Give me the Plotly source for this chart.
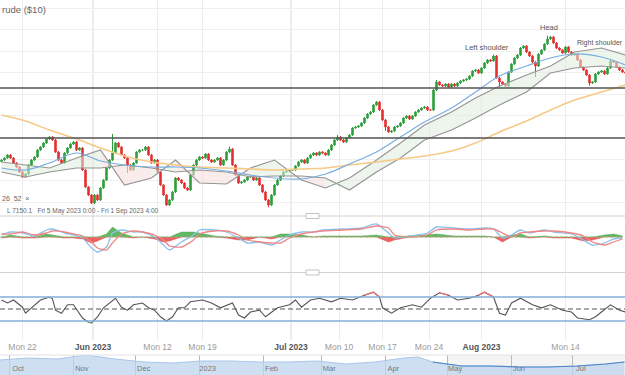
import plotly.graph_objects as go

# ---------------- text ----------------
chart_title = "rude ($10)"
indicator_params = "26  52  ×"
range_info = "L 7150.1   Fri 5 May 2023 0:00 - Fri 1 Sep 2023 4:00"
pattern_labels = ["Left shoulder", "Head", "Right shoulder"]

# ---------------- price candles (4h closes) ----------------
closes = [
    7530, 7544, 7565, 7544, 7509, 7481, 7446, 7411, 7432, 7495,
    7530, 7551, 7600, 7621, 7649, 7677, 7691, 7670, 7586, 7530,
    7509, 7579, 7614, 7642, 7656, 7600, 7614, 7460, 7341, 7285,
    7229, 7285, 7250, 7334, 7390, 7474, 7530, 7579, 7649, 7621,
    7565, 7544, 7495, 7460, 7509, 7586, 7600, 7600, 7621, 7565,
    7509, 7530, 7446, 7355, 7285, 7215, 7250, 7306, 7404, 7390,
    7369, 7334, 7320, 7425, 7495, 7530, 7551, 7544, 7572, 7530,
    7516, 7530, 7544, 7495, 7530, 7586, 7607, 7495, 7425, 7369,
    7376, 7390, 7411, 7418, 7390, 7404, 7355, 7306, 7250, 7215,
    7285, 7355, 7390, 7418, 7446, 7453, 7460, 7460, 7488, 7516,
    7530, 7509, 7544, 7565, 7579, 7565, 7586, 7579, 7565, 7600,
    7635, 7670, 7691, 7670, 7656, 7684, 7705, 7754, 7761, 7768,
    7789, 7824, 7852, 7866, 7915, 7936, 7880, 7810, 7761, 7726,
    7733, 7761, 7768, 7789, 7824, 7838, 7817, 7838, 7866, 7880,
    7894, 7901, 7880, 7880, 8020, 8076, 8055, 8048, 8062, 8041,
    8062, 8048, 8069, 8083, 8090, 8097, 8118, 8153, 8160, 8139,
    8174, 8209, 8230, 8223, 8258, 8104, 8076, 8062, 8048, 8146,
    8202, 8244, 8265, 8314, 8328, 8286, 8258, 8216, 8188, 8272,
    8300, 8342, 8377, 8391, 8349, 8314, 8300, 8279, 8321, 8286,
    8265, 8272, 8230, 8181, 8160, 8125, 8069, 8076, 8132, 8146,
    8153, 8132, 8174, 8223, 8216, 8181, 8160, 8146, 8139,
]
first_open = 7520
wick_hi = {37: 7712, 76: 7625, 112: 7705, 145: 8090, 164: 8268, 182: 8400, 203: 8235}
wick_lo = {42: 7440, 89: 7200, 128: 7735, 166: 8040, 178: 8110, 196: 8050}
tail = 6

# horizontal levels drawn on the chart
levels = [8034, 7684]

# ---------------- overlays (read at candle positions) ----------------
ma_idx = [0, 8, 16, 25, 33, 41, 50, 58, 66, 75, 83, 91, 100, 108, 116, 125,
          133, 141, 150, 158, 166, 175, 183, 191, 200, 208]
ma_fast = [7474, 7460, 7509, 7579, 7523, 7495, 7481, 7481, 7474, 7453, 7425, 7404, 7397,
           7432, 7502, 7586, 7691, 7796, 7894, 8006, 8118, 8188, 8244, 8272, 8251, 8195]
ma_slow = [7845, 7803, 7740, 7677, 7614, 7558, 7516, 7495, 7481, 7474, 7467, 7460, 7467,
           7474, 7495, 7516, 7537, 7558, 7593, 7649, 7726, 7803, 7880, 7950, 8006, 8055]
span_a = [7516, 7495, 7474, 7544, 7600, 7355, 7404, 7530, 7369, 7362, 7474, 7530, 7390,
          7334, 7404, 7530, 7649, 7775, 7866, 7964, 8048, 8125, 8188, 8286, 8314, 8265]
span_b = [7446, 7411, 7446, 7474, 7474, 7495, 7474, 7446, 7460, 7446, 7411, 7418, 7418,
          7404, 7320, 7446, 7544, 7670, 7740, 7824, 7915, 8006, 8139, 8174, 8188, 8174]

# ---------------- MACD ----------------
macd_idx = [0, 3, 7, 11, 15, 17, 21, 24, 27, 30, 32, 35, 37, 40, 44, 47, 51, 54, 56, 60,
            64, 66, 71, 75, 79, 82, 86, 90, 93, 96, 100, 104, 107, 114, 120, 125, 129, 131,
            136, 142, 145, 151, 156, 161, 164, 167, 170, 173, 176, 181, 184, 190, 194, 197,
            201, 204, 207]
macd_line = [2, 5, 4, 1, 7, 8, 4, 2, -1, -11, -15, -10, 4, 7, 5, 5, 0, -8, -13, -5,
             2, 7, 7, 5, -1, -6, -5, -8, -3, 2, 5, 5, 7, 8, 9, 13, 4, -1,
             1, 4, 10, 9, 8, 9, 8, -1, 2, 7, 4, 7, 5, 3, -3, -8, -6, -2, -1]
signal_line = [3, 3, 5, 2, 4, 6, 5, 3, 1, -5, -11, -13, -6, 3, 6, 5, 2, -3, -9, -10,
               -3, 3, 6, 6, 2, -3, -5, -6, -6, -1, 3, 5, 6, 7, 8, 11, 9, 2,
               0, 2, 7, 8, 7, 8, 8, 4, 0, 4, 5, 6, 6, 4, 1, -5, -8, -5, -2]

# ---------------- RSI ----------------
rsi_idx = [0, 2, 4, 7, 8, 11, 13, 16, 17, 18, 20, 22, 24, 27, 29, 30, 32, 34, 38, 40,
           42, 44, 47, 49, 51, 53, 55, 57, 59, 61, 63, 67, 70, 73, 77, 79, 81, 83, 86, 88,
           90, 92, 96, 98, 100, 103, 106, 108, 110, 113, 117, 121, 124, 126, 127, 130, 133,
           137, 140, 143, 146, 149, 152, 156, 159, 161, 164, 166, 168, 170, 173, 177, 180,
           183, 187, 190, 192, 196, 198, 200, 203, 206, 208]
rsi_val = [65, 60, 65, 53, 43, 57, 65, 70, 67, 48, 43, 57, 57, 35, 28, 27, 37, 52, 68, 53,
           48, 57, 60, 52, 48, 37, 30, 37, 52, 52, 62, 65, 60, 52, 60, 40, 35, 45, 48, 37,
           45, 52, 57, 65, 53, 65, 68, 65, 62, 68, 65, 73, 78, 70, 52, 43, 52, 57, 53, 68,
           77, 73, 65, 68, 73, 78, 70, 43, 40, 60, 68, 57, 52, 57, 48, 45, 35, 32, 37, 45,
           57, 48, 45]
rsi_bands = [70, 50, 30]

# ---------------- time axis ----------------
tick_idx = [7, 30.5, 52, 67, 96.5, 112.5, 127, 142.5, 160, 188]
tick_names = ["Mon 22", "Jun 2023", "Mon 12", "Mon 19", "Jul 2023",
              "Mon 10", "Mon 17", "Mon 24", "Aug 2023", "Mon 14"]

# ---------------- navigator ----------------
nav_dates = ["2022-09-26", "2022-10-10", "2022-10-24", "2022-11-07", "2022-11-21",
             "2022-12-05", "2022-12-19", "2023-01-02", "2023-01-16", "2023-01-30",
             "2023-02-13", "2023-02-27", "2023-03-13", "2023-03-27", "2023-04-10",
             "2023-04-17", "2023-04-24", "2023-05-08", "2023-05-22", "2023-06-05",
             "2023-06-19", "2023-07-03", "2023-07-17", "2023-07-26"]
nav_vals = [15, 17, 16, 20, 16, 13, 12, 14, 14, 13, 13, 14, 11, 13, 17, 18, 13, 9, 9, 8,
            8, 9, 11, 13]
nav_months = ["2022-10-01", "2022-11-01", "2022-12-01", "2023-01-01", "2023-02-01",
              "2023-03-01", "2023-04-01", "2023-05-01", "2023-06-01", "2023-07-01"]
nav_month_names = ["Oct", "Nov", "Dec", "2023", "Feb", "Mar", "Apr", "May", "Jun", "Jul"]
nav_window_start = "2023-05-01"

# ================= build =================
GREEN = "#2e9e3c"
RED = "#e3302f"
idx = list(range(len(closes)))
opens = [first_open] + closes[:-1]
highs = [max(wick_hi.get(i, max(o, c) + tail), max(o, c)) for i, (o, c) in enumerate(zip(opens, closes))]
lows = [min(wick_lo.get(i, min(o, c) - tail), min(o, c)) for i, (o, c) in enumerate(zip(opens, closes))]

fig = go.Figure()

# cloud fills
bx, by, rx, ry = [], [], [], []
for k in range(len(ma_idx) - 1):
    xs = [ma_idx[k], ma_idx[k + 1], ma_idx[k + 1], ma_idx[k], ma_idx[k], None]
    ys = [span_a[k], span_a[k + 1], span_b[k + 1], span_b[k], span_a[k], None]
    if span_a[k] + span_a[k + 1] >= span_b[k] + span_b[k + 1]:
        bx += xs; by += ys
    else:
        rx += xs; ry += ys
fig.add_trace(go.Scatter(x=bx, y=by, fill="toself", fillcolor="rgba(222,236,222,0.55)",
                         line=dict(width=0), mode="lines", hoverinfo="skip"))
fig.add_trace(go.Scatter(x=rx, y=ry, fill="toself", fillcolor="rgba(248,224,224,0.6)",
                         line=dict(width=0), mode="lines", hoverinfo="skip"))
for sp in (span_a, span_b):
    fig.add_trace(go.Scatter(x=ma_idx, y=sp, mode="lines", line=dict(color="#949494", width=1.1),
                             hoverinfo="skip"))
fig.add_trace(go.Scatter(x=ma_idx, y=ma_slow, mode="lines", line=dict(color="#f6c987", width=1.6, shape="spline"),
                         hoverinfo="skip"))
fig.add_trace(go.Scatter(x=ma_idx, y=ma_fast, mode="lines", line=dict(color="#78aee0", width=1.2, shape="spline"),
                         hoverinfo="skip"))

fig.add_trace(go.Candlestick(
    x=idx, open=opens, high=highs, low=lows, close=closes,
    increasing=dict(line=dict(color=GREEN, width=1), fillcolor=GREEN),
    decreasing=dict(line=dict(color=RED, width=1), fillcolor=RED),
    whiskerwidth=0, hoverinfo="skip", xaxis="x", yaxis="y"))

# MACD
hist = [m - s for m, s in zip(macd_line, signal_line)]
fig.add_trace(go.Scatter(x=macd_idx, y=[max(h, 0) for h in hist], xaxis="x2", yaxis="y2", mode="lines",
                         fill="tozeroy", fillcolor="rgba(70,170,70,0.85)", line=dict(color="rgba(70,170,70,0.9)", width=0.5),
                         hoverinfo="skip"))
fig.add_trace(go.Scatter(x=macd_idx, y=[min(h, 0) for h in hist], xaxis="x2", yaxis="y2", mode="lines",
                         fill="tozeroy", fillcolor="rgba(232,70,70,0.85)", line=dict(color="rgba(232,70,70,0.9)", width=0.5),
                         hoverinfo="skip"))
fig.add_trace(go.Scatter(x=macd_idx, y=macd_line, xaxis="x2", yaxis="y2", mode="lines",
                         line=dict(color="#8cc0ee", width=1.3, shape="spline", smoothing=0.6), hoverinfo="skip"))
fig.add_trace(go.Scatter(x=macd_idx, y=signal_line, xaxis="x2", yaxis="y2", mode="lines",
                         line=dict(color="#f08585", width=1.3, shape="spline", smoothing=0.6), hoverinfo="skip"))

# RSI
fig.add_trace(go.Scatter(x=rsi_idx, y=rsi_val, xaxis="x3", yaxis="y3", mode="lines",
                         line=dict(color="#555555", width=1.1), hoverinfo="skip"))
fig.add_trace(go.Scatter(x=rsi_idx, y=[v if v >= rsi_bands[0] else None for v in rsi_val], xaxis="x3", yaxis="y3",
                         mode="lines", line=dict(color="#f07070", width=1.3), hoverinfo="skip"))
fig.add_trace(go.Scatter(x=rsi_idx, y=[v if v <= rsi_bands[2] else None for v in rsi_val], xaxis="x3", yaxis="y3",
                         mode="lines", line=dict(color="#5cc05c", width=1.3), hoverinfo="skip"))

# navigator
fig.add_trace(go.Scatter(x=nav_dates, y=nav_vals, xaxis="x4", yaxis="y4", mode="lines", fill="tozeroy",
                         fillcolor="rgba(190,212,238,0.75)", line=dict(color="#a9c6e8", width=1), hoverinfo="skip"))
sel = [(d, v) for d, v in zip(nav_dates, nav_vals) if d >= "2023-04-24"]
fig.add_trace(go.Scatter(x=[d for d, _ in sel], y=[v for _, v in sel], xaxis="x4", yaxis="y4", mode="lines",
                         line=dict(color="#4a86c8", width=1.2), hoverinfo="skip"))

# ---------------- axes ----------------
grid = "#ececec"
ticktext = ["<span style='color:#555'><b>%s</b></span>" % t if "2023" in t else t for t in tick_names]
common_x = dict(range=[-0.5, -0.5 + 625 / 3], tickmode="array", tickvals=tick_idx, showgrid=True,
                gridcolor=grid, zeroline=False, showline=False, ticks="", fixedrange=True)
fig.update_layout(
    width=625, height=375, margin=dict(l=0, r=0, t=0, b=0),
    paper_bgcolor="white", plot_bgcolor="white", showlegend=False,
    font=dict(family="Liberation Sans, Arial, sans-serif", size=9, color="#999999"),
    xaxis=dict(common_x, anchor="y", showticklabels=False, rangeslider=dict(visible=False)),
    xaxis2=dict(common_x, anchor="y2", matches="x", showticklabels=False),
    xaxis3=dict(common_x, anchor="y3", matches="x", showticklabels=True, ticktext=ticktext,
                tickfont=dict(size=8.5, color="#9a9a9a")),
    yaxis=dict(domain=[160 / 375, 1], range=[7145, 8650], showticklabels=False, showgrid=True,
               gridcolor="#efefef", tick0=8594, dtick=151, zeroline=False),
    yaxis2=dict(domain=[103 / 375, 158 / 375], range=[-35, 20], showticklabels=False, showgrid=False,
                zeroline=False),
    yaxis3=dict(domain=[35 / 375, 101 / 375], range=[-1.667, 108.333], showticklabels=False,
                showgrid=False, zeroline=False),
    xaxis4=dict(anchor="y4", type="date", range=["2022-09-26 04:00", "2023-07-26 07:00"],
                tickmode="array", tickvals=nav_months, ticktext=nav_month_names,
                ticklabelposition="inside", ticklabelshift=8, tickfont=dict(size=7.5, color="#777"),
                showgrid=True, gridcolor="#b9b9b9", zeroline=False, ticks="", fixedrange=True),
    yaxis4=dict(domain=[0, 20 / 375], range=[0, 20], showticklabels=False, showgrid=False,
                zeroline=False, fixedrange=True),
)

shapes = []
for lv in levels:
    shapes.append(dict(type="line", xref="paper", x0=0, x1=1, yref="y", y0=lv, y1=lv,
                       line=dict(color="#555555", width=1.6)))
for t, name in zip(tick_idx, tick_names):
    if "2023" in name:
        shapes.append(dict(type="line", xref="x", x0=t, x1=t, yref="paper", y0=35 / 375, y1=1,
                           line=dict(color="#d8d8d8", width=1), layer="below"))
# panel separators with handles
for ypx in (216, 272.5):
    yp = 1 - ypx / 375
    shapes.append(dict(type="line", xref="paper", x0=0, x1=1, yref="paper", y0=yp, y1=yp,
                       line=dict(color="#d2d2d2", width=1)))
    shapes.append(dict(type="rect", xref="paper", x0=306 / 625, x1=319 / 625, yref="paper",
                       y0=yp - 2.5 / 375, y1=yp + 2.5 / 375, fillcolor="white",
                       line=dict(color="#c4c4c4", width=1)))
shapes.append(dict(type="line", xref="paper", x0=0, x1=1, yref="y2", y0=0, y1=0,
                   line=dict(color="#86c486", width=1, dash="3px,2px")))
for v, col, dash in ((rsi_bands[0], "#84acd8", "solid"), (rsi_bands[2], "#84acd8", "solid"),
                     (rsi_bands[1], "#555555", "5px,3px")):
    shapes.append(dict(type="line", xref="paper", x0=0, x1=1, yref="y3", y0=v, y1=v,
                       line=dict(color=col, width=1.3 if dash == "solid" else 1, dash=dash)))
shapes.append(dict(type="rect", xref="x4", x0=nav_window_start, x1="2023-07-26 07:00", yref="paper",
                   y0=0, y1=20 / 375, fillcolor="rgba(0,0,0,0.045)", line=dict(width=0), layer="below"))
shapes.append(dict(type="line", xref="paper", x0=0, x1=1, yref="paper", y0=20 / 375, y1=20 / 375,
                   line=dict(color="#e2e2e2", width=1)))
fig.update_layout(shapes=shapes)

ann = [
    dict(text=chart_title, xref="paper", yref="paper", x=0, y=1 - 10 / 375, xanchor="left",
         yanchor="middle", showarrow=False, font=dict(size=9.5, color="#666")),
    dict(text=indicator_params, xref="paper", yref="paper", x=0, y=1 - 199 / 375, xanchor="left",
         yanchor="middle", showarrow=False, font=dict(size=7, color="#666")),
    dict(text=range_info, xref="paper", yref="paper", x=5 / 625, y=1 - 211 / 375, xanchor="left",
         yanchor="middle", showarrow=False, font=dict(size=6.5, color="#666")),
    dict(text=pattern_labels[0], xref="x", yref="y", x=161.8, y=8321, showarrow=False,
         font=dict(size=7.5, color="#555")),
    dict(text=pattern_labels[1], xref="x", yref="y", x=182.5, y=8461, showarrow=False,
         font=dict(size=7.5, color="#555")),
    dict(text=pattern_labels[2], xref="paper", yref="y", x=1, y=8349, xanchor="right", showarrow=False,
         font=dict(size=7, color="#555")),
]
fig.update_layout(annotations=ann)

fig.write_html("out.html", config={"displayModeBar": False, "staticPlot": True},
               post_script="document.body.style.margin='0';")
